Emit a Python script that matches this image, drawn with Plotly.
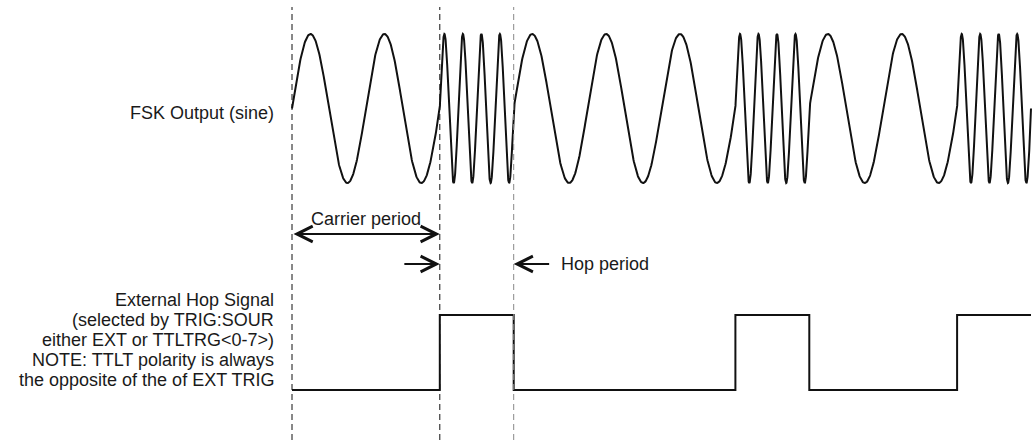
import numpy as np
import plotly.graph_objects as go

# ---- data (time in carrier-period units) ----
segment_kinds = ["carrier", "hop", "carrier", "hop", "carrier", "hop"]
segment_durations = [2, 1, 3, 1, 2, 1]
carrier_cycles_per_unit = 1
hop_cycles_per_unit = 4
hop_levels = [0, 1, 0, 1, 0, 1]          # external hop signal level per segment
marker_times = [0, 2, 3]                  # dashed reference lines
marker_colors = ["#111111", "#111111", "#888888"]
label_fsk = "FSK Output (sine)"
label_hop_lines = ["External Hop Signal",
                   "(selected by TRIG:SOUR",
                   "either EXT or TTLTRG<0-7>)",
                   "NOTE: TTLT polarity is always",
                   "the opposite of the of EXT TRIG"]

# ---- build traces ----
W, H = 1035, 444
x0_px, unit_px = 292.0, 73.9
FONT = "Liberation Sans, Arial, Helvetica, sans-serif"
TXT = "#1a1a1a"

def py(px):
    return 1 - px / H

ts, ys = [], []
lx, ly = [], []
start = 0.0
for kind, dur, lvl in zip(segment_kinds, segment_durations, hop_levels):
    f = carrier_cycles_per_unit if kind == "carrier" else hop_cycles_per_unit
    t = np.linspace(start, start + dur, int(300 * dur * f / 2) + 60)
    ts.extend(t.tolist())
    ys.extend(np.sin(2 * np.pi * f * (t - start)).tolist())
    lx.extend([start, start + dur])
    ly.extend([lvl, lvl])
    start += dur

fig = go.Figure()
fig.add_trace(go.Scatter(x=ts, y=ys, mode="lines",
                         line=dict(color="#111111", width=2),
                         xaxis="x", yaxis="y", hoverinfo="skip"))
fig.add_trace(go.Scatter(x=lx, y=ly, mode="lines",
                         line=dict(color="#111111", width=2, shape="hv"),
                         xaxis="x", yaxis="y2", hoverinfo="skip"))

shapes = []
for t, c in zip(marker_times, marker_colors):
    shapes.append(dict(type="line", xref="x", yref="paper", x0=t, x1=t,
                       y0=py(440), y1=py(7),
                       line=dict(color=c, width=1, dash="6px,4px")))

AS = 1.55
ann = []
# Carrier period double arrow
ann.append(dict(xref="x", yref="paper", x=marker_times[1], y=py(234),
                axref="x", ax=marker_times[0], ay=0, text="", showarrow=True,
                arrowhead=5, startarrowhead=5, arrowside="end+start",
                arrowsize=AS, startarrowsize=AS, arrowwidth=2,
                arrowcolor="#111111", standoff=0, startstandoff=0))
ann.append(dict(xref="x", yref="paper", x=(marker_times[0] + marker_times[1]) / 2,
                y=py(219), text="Carrier period", showarrow=False,
                font=dict(family=FONT, size=18, color=TXT),
                xanchor="center", yanchor="middle"))
# Hop period arrows
ann.append(dict(xref="x", yref="paper", x=marker_times[1], y=py(264),
                axref="x", ax=marker_times[1] - 0.5, ay=0, text="", showarrow=True,
                arrowhead=5, arrowsize=AS, arrowwidth=2,
                arrowcolor="#111111", standoff=0))
ann.append(dict(xref="x", yref="paper", x=marker_times[2], y=py(264),
                axref="x", ax=marker_times[2] + 0.5, ay=0, text="", showarrow=True,
                arrowhead=5, arrowsize=AS, arrowwidth=2,
                arrowcolor="#111111", standoff=0))
ann.append(dict(xref="x", yref="paper", x=marker_times[2] + 0.61, y=py(264),
                text="Hop period", showarrow=False,
                font=dict(family=FONT, size=18, color=TXT),
                xanchor="left", yanchor="middle"))
# Left labels
ann.append(dict(xref="paper", yref="paper", x=276 / W, y=py(113),
                text=label_fsk, showarrow=False,
                font=dict(family=FONT, size=18, color=TXT),
                xanchor="right", yanchor="middle"))
for i, line in enumerate(label_hop_lines):
    ann.append(dict(xref="paper", yref="paper", x=276 / W, y=py(300 + 20 * i),
                    text=line, showarrow=False,
                    font=dict(family=FONT, size=18, color=TXT),
                    xanchor="right", yanchor="middle"))

fig.update_layout(
    width=W, height=H, margin=dict(l=0, r=0, t=0, b=0),
    paper_bgcolor="white", plot_bgcolor="white", showlegend=False,
    xaxis=dict(range=[(0 - x0_px) / unit_px, (W - x0_px) / unit_px],
               visible=False, fixedrange=True),
    yaxis=dict(range=[-1.1, 1.1], domain=[py(190.45), py(26.55)],
               visible=False, fixedrange=True),
    yaxis2=dict(range=[-0.1, 1.1], domain=[py(397.5), py(307.5)],
                visible=False, fixedrange=True, anchor="x"),
    shapes=shapes, annotations=ann,
)
fig.write_html("out.html", config={"displayModeBar": False},
               post_script="document.body.style.margin='0';"
                           "document.body.style.overflow='hidden';")
